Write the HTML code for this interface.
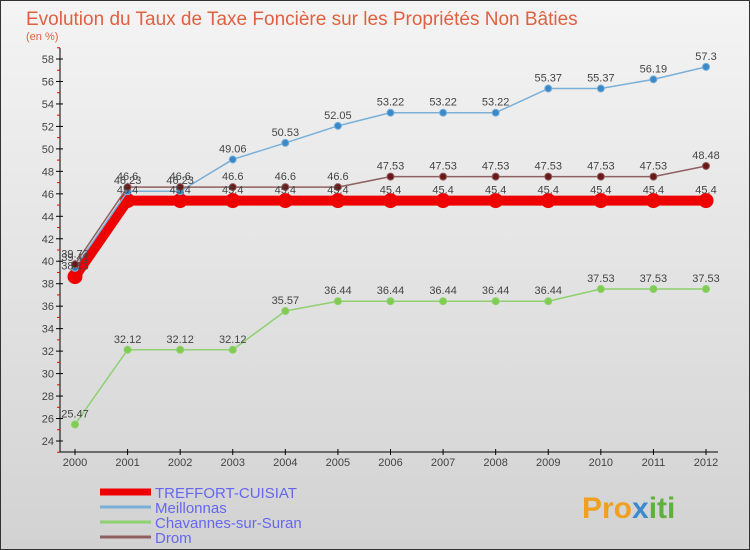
<!DOCTYPE html>
<html><head><meta charset="utf-8"><style>
body{margin:0;width:750px;height:550px;overflow:hidden;font-family:"Liberation Sans",sans-serif}
svg{display:block}
</style></head><body>
<svg width="750" height="550" xmlns="http://www.w3.org/2000/svg">
<defs><linearGradient id="bg" x1="0" y1="0" x2="0" y2="1"><stop offset="0" stop-color="#f4f4f4"/><stop offset="1" stop-color="#d2d2d2"/></linearGradient></defs>
<rect x="0.5" y="0.5" width="749" height="549" fill="url(#bg)" stroke="#333"/>
<text x="26" y="25" font-size="19" fill="#e06040">Evolution du Taux de Taxe Foncière sur les Propriétés Non Bâties</text>
<text x="26" y="40" font-size="11" fill="#e06040">(en %)</text>
<g id="axes"></g><g id="series"></g><g id="legend"></g>
<text x="582" y="518" font-size="30" font-weight="bold" fill="#f0a020">Pro<tspan fill="#3a8ad0">x</tspan><tspan fill="#60b040">iti</tspan></text>
</svg>
<script>
const years=[2000,2001,2002,2003,2004,2005,2006,2007,2008,2009,2010,2011,2012];
const yTicks=[24,26,28,30,32,34,36,38,40,42,44,46,48,50,52,54,56,58];
const treffort=[38.63,45.4,45.4,45.4,45.4,45.4,45.4,45.4,45.4,45.4,45.4,45.4,45.4];
const meillonnas=[39.41,46.23,46.23,49.06,50.53,52.05,53.22,53.22,53.22,55.37,55.37,56.19,57.3];
const chavannes=[25.47,32.12,32.12,32.12,35.57,36.44,36.44,36.44,36.44,36.44,37.53,37.53,37.53];
const drom=[39.73,46.6,46.6,46.6,46.6,46.6,47.53,47.53,47.53,47.53,47.53,47.53,48.48];
const NS="http://www.w3.org/2000/svg";
const X=i=>75+i*(706-75)/(years.length-1);
const Y=v=>441-(v-24)*(441-59)/34;
function mk(t,a,p){const e=document.createElementNS(NS,t);for(const k in a)e.setAttribute(k,a[k]);p.appendChild(e);return e;}
const ax=document.getElementById('axes');
let e=mk('line',{x1:60,y1:48,x2:60,y2:452,stroke:'#000'},ax);


e=mk('line',{x1:60,y1:452,x2:718,y2:452,stroke:'#000'},ax);


for(let v=23;v<=59;v+=2){mk('line',{x1:57,y1:Y(v),x2:60,y2:Y(v),stroke:'#e00'},ax);}
yTicks.forEach(v=>{mk('line',{x1:56,y1:Y(v),x2:63,y2:Y(v),stroke:'#000'},ax);
const t=mk('text',{x:54,y:Y(v)+4,'font-size':11,fill:'#444','text-anchor':'end'},ax);t.textContent=v;

});
years.forEach((y,i)=>{mk('line',{x1:X(i),y1:449,x2:X(i),y2:455,stroke:'#000'},ax);
const t=mk('text',{x:X(i),y:466,'font-size':11,fill:'#444','text-anchor':'middle'},ax);t.textContent=y;

});
const sg=document.getElementById('series');
function series(name,data,color,w,r,dot,labels){
const g=mk('g',{},sg);


const l=mk('polyline',{points:data.map((v,i)=>X(i)+','+Y(v)).join(' '),fill:'none',stroke:color,'stroke-width':w,'stroke-linejoin':'round'},g);


data.forEach((v,i)=>{const c=mk('circle',{cx:X(i),cy:Y(v),r:r,fill:dot,stroke:color,'stroke-width':1},g);


if(labels){const t=mk('text',{x:X(i),y:Y(v)-7,'font-size':11,fill:'#444','text-anchor':'middle'},g);t.textContent=v;

}});}
series('chavannes',chavannes,'#8fd070',1.5,3.5,'#80cc50',true);
series('treffort',treffort,'#ee0000',10,7,'#ee0000',false);
series('meillonnas',meillonnas,'#7ab0d8',1.5,3.5,'#3a88c8',true);
series('drom',drom,'#906060',1.5,3.5,'#6a1818',true);
treffort.forEach((v,i)=>{const t=mk('text',{x:X(i),y:Y(v)-7,'font-size':11,fill:'#444','text-anchor':'middle'},sg);t.textContent=v;

});
const lg=document.getElementById('legend');
const names=['TREFFORT-CUISIAT','Meillonnas','Chavannes-sur-Suran','Drom'];
const cols=['#ee0000','#7ab0d8','#8fd070','#906060'];
const ws=[7,3,3,3];
names.forEach((n,i)=>{const y=492+i*15;
const g=mk('g',{},lg);


mk('line',{x1:100,y1:y,x2:151,y2:y,stroke:cols[i],'stroke-width':ws[i]},g);
const t=mk('text',{x:155,y:y+6,'font-size':15,fill:'#6666ee'},g);t.textContent=n;});
</script>
</body></html>
